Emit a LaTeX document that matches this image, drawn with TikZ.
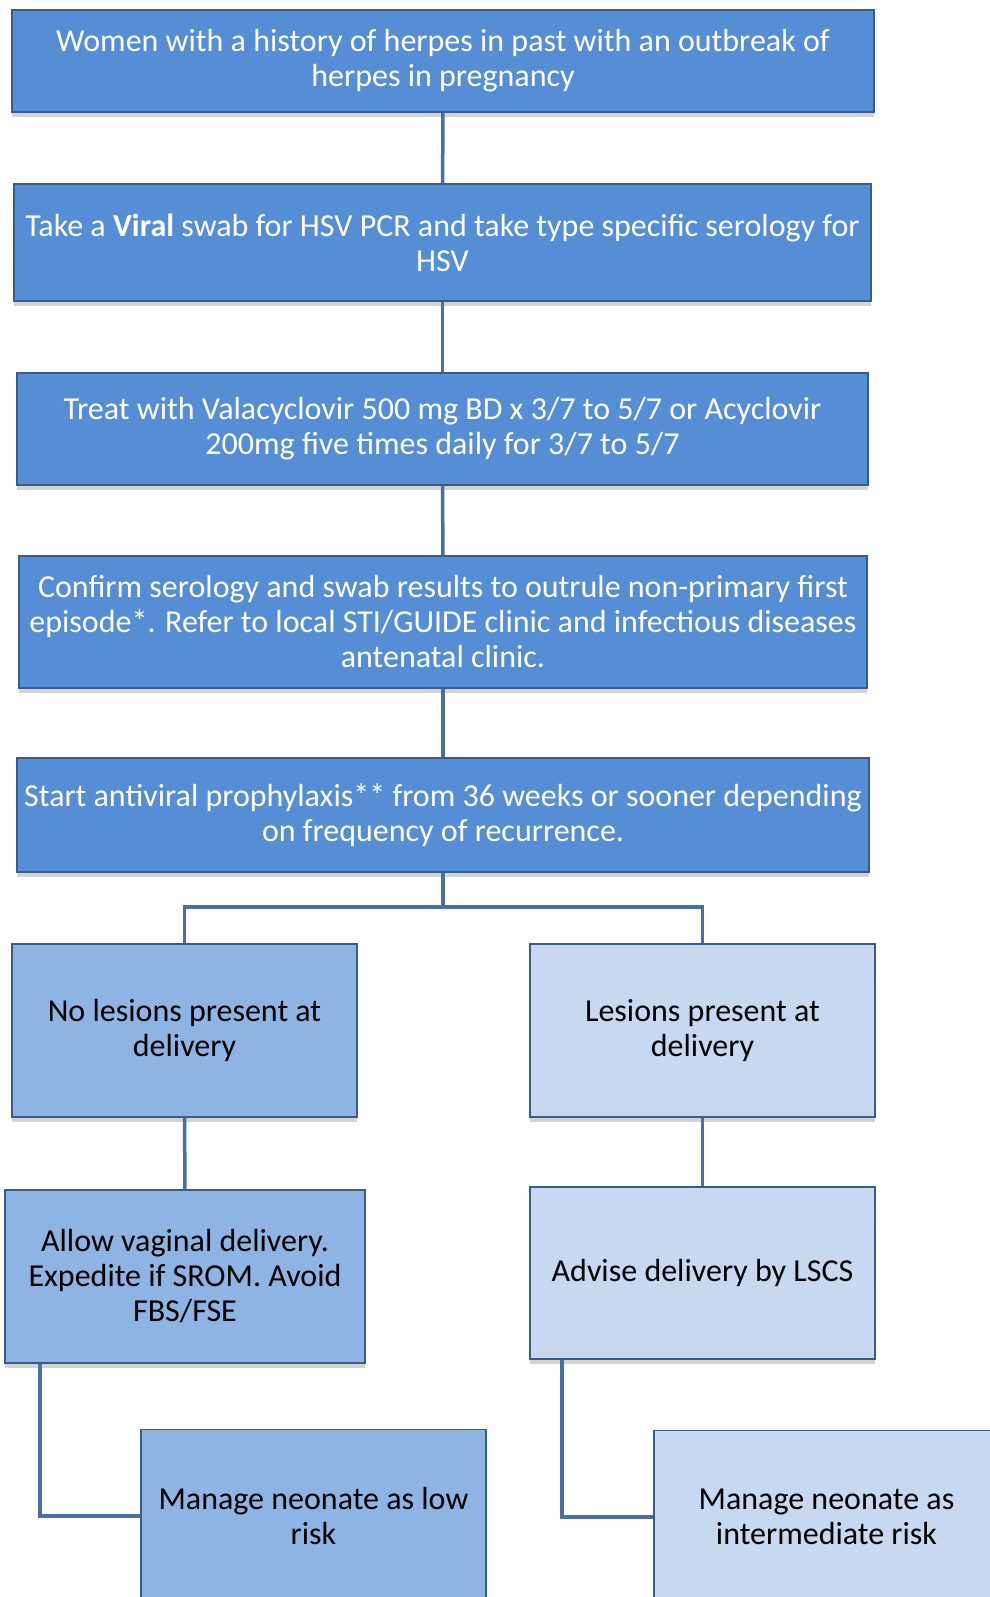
\documentclass[tikz,border=0pt]{standalone}
\usepackage{fontspec}
\setmainfont{Carlito}
\usepackage{xcolor}
\usetikzlibrary{shadows}

\definecolor{darkbox}{HTML}{558ED5}
\definecolor{midbox}{HTML}{8EB4E3}
\definecolor{lightbox}{HTML}{C6D9F1}
\definecolor{boxline}{HTML}{385D8A}
\definecolor{linkline}{HTML}{4A6FA5}

\tikzset{
	box/.style={draw=boxline, line width=1.8pt, rectangle, align=center, inner sep=2pt,
		font=\fontsize{32}{35}\selectfont,
		drop shadow={opacity=0.35, shadow xshift=0pt, shadow yshift=-5pt}},
	topbox/.style={box, fill=darkbox, text=white},
	leftbox/.style={box, fill=midbox, text=black},
	rightbox/.style={box, fill=lightbox, text=black},
	link/.style={draw=linkline, line width=3.5pt}
}

\begin{document}
\begin{tikzpicture}[x=1pt, y=-1pt]
	
	\useasboundingbox (0,0) rectangle (989,1597);
	
	\node [topbox, minimum width=862pt, minimum height=102pt] (women) at (443,61)
		{Women with a history of herpes in past with an outbreak of\\herpes in pregnancy};
	\node [topbox, minimum width=857pt, minimum height=117pt] (swab) at (442.5,242.5)
		{Take a \textbf{Viral} swab for HSV PCR and take type specific serology for\\HSV};
	\node [topbox, minimum width=851pt, minimum height=112pt] (treat) at (442.5,429)
		{Treat with Valacyclovir 500 mg BD x 3/7 to 5/7 or Acyclovir\\200mg five times daily for 3/7 to 5/7};
	\node [topbox, minimum width=848pt, minimum height=132pt] (confirm) at (443,622)
		{Confirm serology and swab results to outrule non-primary first\\episode*. Refer to local STI/GUIDE clinic and infectious diseases\\antenatal clinic.};
	\node [topbox, minimum width=852pt, minimum height=114pt] (prophylaxis) at (443,815)
		{Start antiviral prophylaxis** from 36 weeks or sooner depending\\on frequency of recurrence.};
	
	\node [leftbox, minimum width=345pt, minimum height=173pt] (nolesions) at (184.5,1030.5)
		{No lesions present at\\delivery};
	\node [rightbox, minimum width=345pt, minimum height=173pt] (lesions) at (702.5,1030.5)
		{Lesions present at\\delivery};
	
	\node [leftbox, minimum width=360pt, minimum height=173pt] (vaginal) at (185,1276.5)
		{Allow vaginal delivery.\\Expedite if SROM. Avoid\\FBS/FSE};
	\node [rightbox, minimum width=345pt, minimum height=172pt] (lscs) at (702.5,1273)
		{Advise delivery by LSCS};
	
	\node [leftbox, minimum width=345pt, minimum height=173pt] (lowrisk) at (313.5,1516)
		{Manage neonate as low\\risk};
	\node [rightbox, minimum width=345pt, minimum height=173pt] (midrisk) at (826.5,1517)
		{Manage neonate as\\intermediate risk};
	
	\coordinate (split) at (443,907);
	
	\draw [link] (women) -- (swab);
	\draw [link] (swab) -- (treat);
	\draw [link] (treat) -- (confirm);
	\draw [link] (confirm) -- (prophylaxis);
	\draw [link] (prophylaxis) -- (split);
	\draw [link] (nolesions.north) |- (split) -| (lesions.north);
	
	\draw [link] (nolesions) -- (vaginal);
	\draw [link] (lesions) -- (lscs);
	
	\draw [link] ([xshift=36pt]vaginal.south west) |- (lowrisk.west);
	\draw [link] ([xshift=33pt]lscs.south west) |- (midrisk.west);
	
\end{tikzpicture}
\end{document}
